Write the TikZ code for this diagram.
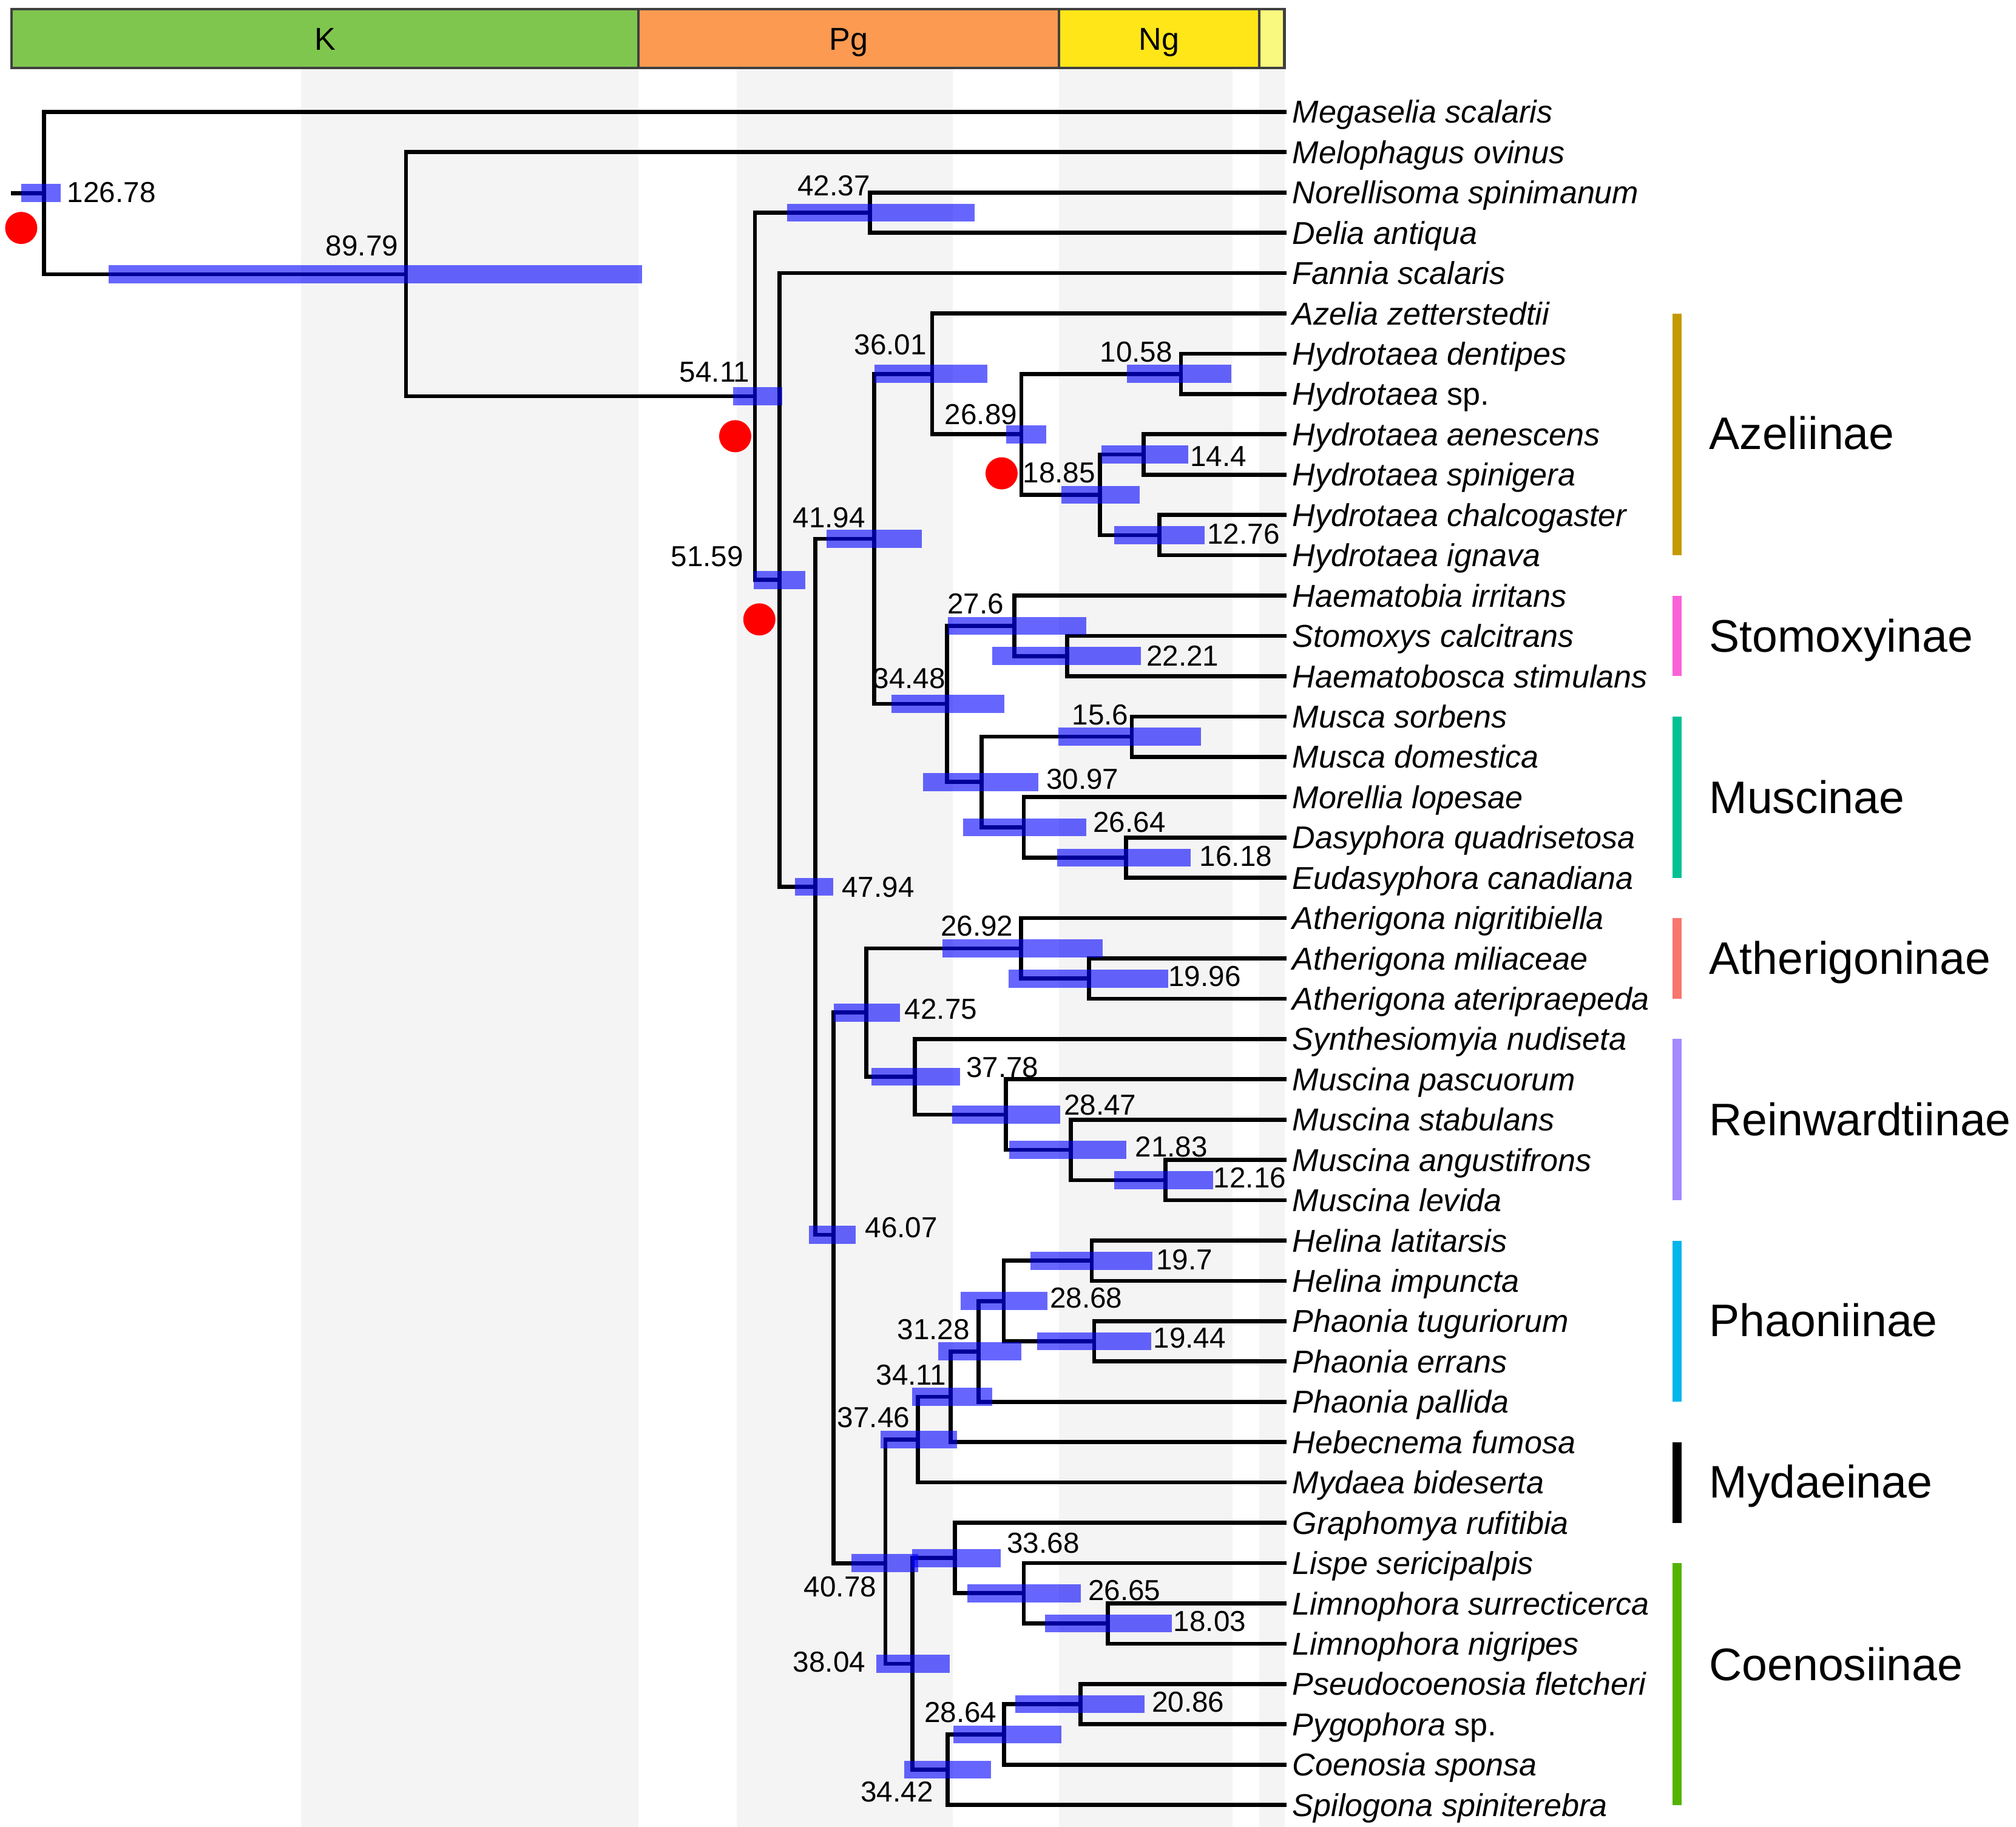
\documentclass[tikz,border=0pt]{standalone}
\usepackage{fontspec}
\setmainfont{Liberation Sans}
\usetikzlibrary{calc}

\definecolor{cretac}{HTML}{7FC64E}
\definecolor{paleog}{HTML}{FD9A52}
\definecolor{neog}{HTML}{FFE619}
\definecolor{quat}{HTML}{F9F97F}
\definecolor{epochgray}{HTML}{F4F4F4}
\definecolor{azel}{HTML}{C49A00}
\definecolor{stomo}{HTML}{FB61D7}
\definecolor{musci}{HTML}{00C094}
\definecolor{atheri}{HTML}{F8766D}
\definecolor{reinw}{HTML}{A58AFF}
\definecolor{phaon}{HTML}{00B6EB}
\definecolor{coeno}{HTML}{53B400}

% age (Ma) -> x position
\newcommand{\agex}[1]{999-7.61*#1}
% 95% HPD bar of a node
\newcommand{\hpd}[3]{\draw[hpd] (#2,0 |- #1) -- (#3,0 |- #1);}

\tikzset{%
  branch/.style={line width=1.8pt, line cap=rect, line join=miter},
  hpd/.style={line width=0.28cm, draw=blue, draw opacity=0.6},
  taxon/.style={%
    anchor=west, inner sep=0pt, xshift=0.12cm,
    font=\fontsize{14}{16}\selectfont\itshape,
    text height=12pt, text depth=2pt,
  },
  age/.style={inner sep=0pt, font=\fontsize{12.8}{14}\selectfont},
  cladelab/.style={%
    anchor=west, inner sep=0pt,
    font=\fontsize{20.2}{24}\selectfont,
    text height=17.5pt, text depth=3pt,
  },
  cladebar/.style={line width=0.14cm},
  calib/.style={circle, fill=red, inner sep=0pt, minimum size=0.5cm},
  period/.style={draw=black!75, line width=1.1pt},
  periodlab/.style={%
    inner sep=0pt, font=\fontsize{14}{16}\selectfont,
    text height=12pt, text depth=2pt,
  },
}

\begin{document}
\begin{tikzpicture}[x=0.02cm, y=-0.02cm]
	\useasboundingbox (0,0) rectangle (1568,1421);

	% epochs in the background
	\foreach \a/\b in {100.5/66, 56/33.9, 23.03/5.333, 2.58/0}
		\fill[epochgray] ({\agex{\a}},54) rectangle ({\agex{\b}},1421);

	% time scale
	\filldraw[period, fill=cretac] (9,7) rectangle ({\agex{66}},52.7);
	\filldraw[period, fill=paleog] ({\agex{66}},7) rectangle ({\agex{23.03}},52.7);
	\filldraw[period, fill=neog] ({\agex{23.03}},7) rectangle ({\agex{2.58}},52.7);
	\filldraw[period, fill=quat] ({\agex{2.58}},7) rectangle (999,52.7);
	\node[periodlab] (perK) at ({(9+\agex{66})/2},30) {K};
	\node[periodlab] (perPg) at ({(\agex{66}+\agex{23.03})/2},30) {Pg};
	\node[periodlab] (perNg) at ({(\agex{23.03}+\agex{2.58})/2},30) {Ng};

	% tips
	\foreach \nm [count=\i from 0] in {Megaselia scalaris, Melophagus ovinus,
		Norellisoma spinimanum, Delia antiqua, Fannia scalaris,
		Azelia zetterstedtii, Hydrotaea dentipes, Hydrotaea \textup{sp.},
		Hydrotaea aenescens, Hydrotaea spinigera, Hydrotaea chalcogaster,
		Hydrotaea ignava, Haematobia irritans, Stomoxys calcitrans,
		Haematobosca stimulans, Musca sorbens, Musca domestica,
		Morellia lopesae, Dasyphora quadrisetosa, Eudasyphora canadiana,
		Atherigona nigritibiella, Atherigona miliaceae,
		Atherigona ateripraepeda, Synthesiomyia nudiseta, Muscina pascuorum,
		Muscina stabulans, Muscina angustifrons, Muscina levida,
		Helina latitarsis, Helina impuncta, Phaonia tuguriorum,
		Phaonia errans, Phaonia pallida, Hebecnema fumosa, Mydaea bideserta,
		Graphomya rufitibia, Lispe sericipalpis, Limnophora surrecticerca,
		Limnophora nigripes, Pseudocoenosia fletcheri, Pygophora \textup{sp.},
		Coenosia sponsa, Spilogona spiniterebra} {
		\coordinate (t\i) at (999,{87+31.357*\i});
		\node[taxon] (lab\i) at (t\i) {\nm};
	}

	% internal nodes
	\coordinate (rootend) at (10,150.16);
	\coordinate (n12678) at ({\agex{126.78}},150.16);
	\coordinate (n8979) at ({\agex{89.79}},213.31);
	\coordinate (n5411) at ({\agex{54.11}},308.27);
	\coordinate (n4237) at ({\agex{42.37}},165.39);
	\coordinate (n5159) at ({\agex{51.59}},451.14);
	\coordinate (n4794) at ({\agex{47.94}},689.85);
	\coordinate (n4194) at ({\agex{41.94}},419.19);
	\coordinate (n3601) at ({\agex{36.01}},290.82);
	\coordinate (n2689) at ({\agex{26.89}},337.86);
	\coordinate (n1058) at ({\agex{10.58}},290.82);
	\coordinate (n1885) at ({\agex{18.85}},384.9);
	\coordinate (n144) at ({\agex{14.4}},353.54);
	\coordinate (n1276) at ({\agex{12.76}},416.25);
	\coordinate (n3448) at ({\agex{34.48}},547.56);
	\coordinate (n276) at ({\agex{27.6}},486.8);
	\coordinate (n2221) at ({\agex{22.21}},510.32);
	\coordinate (n3097) at ({\agex{30.97}},608.31);
	\coordinate (n156) at ({\agex{15.6}},573.04);
	\coordinate (n2664) at ({\agex{26.64}},643.59);
	\coordinate (n1618) at ({\agex{16.18}},667.1);
	\coordinate (n4607) at ({\agex{46.07}},960.5);
	\coordinate (n4275) at ({\agex{42.75}},787.63);
	\coordinate (n2692) at ({\agex{26.92}},737.66);
	\coordinate (n1996) at ({\agex{19.96}},761.18);
	\coordinate (n3778) at ({\agex{37.78}},837.6);
	\coordinate (n2847) at ({\agex{28.47}},867.0);
	\coordinate (n2183) at ({\agex{21.83}},894.44);
	\coordinate (n1216) at ({\agex{12.16}},917.96);
	\coordinate (n4078) at ({\agex{40.78}},1216);
	\coordinate (n3746) at ({\agex{37.46}},1119.82);
	\coordinate (n3411) at ({\agex{34.11}},1086.5);
	\coordinate (n3128) at ({\agex{31.28}},1051.23);
	\coordinate (n2868) at ({\agex{28.68}},1012.03);
	\coordinate (n197) at ({\agex{19.7}},980.68);
	\coordinate (n1944) at ({\agex{19.44}},1043.39);
	\coordinate (n3804) at ({\agex{38.04}},1294.25);
	\coordinate (n3368) at ({\agex{33.68}},1211.93);
	\coordinate (n2665) at ({\agex{26.65}},1239.37);
	\coordinate (n1803) at ({\agex{18.03}},1262.89);
	\coordinate (n3442) at ({\agex{34.42}},1376.56);
	\coordinate (n2864) at ({\agex{28.64}},1349.12);
	\coordinate (n2086) at ({\agex{20.86}},1325.6);

	% branches
	\draw[branch] (rootend) -- (n12678);
	\foreach \p/\c in {n12678/t0, n12678/n8979, n8979/t1, n8979/n5411,
		n5411/n4237, n5411/n5159, n4237/t2, n4237/t3, n5159/t4, n5159/n4794,
		n4794/n4194, n4794/n4607, n4194/n3601, n4194/n3448,
		n3601/t5, n3601/n2689, n2689/n1058, n2689/n1885, n1058/t6, n1058/t7,
		n1885/n144, n1885/n1276, n144/t8, n144/t9, n1276/t10, n1276/t11,
		n3448/n276, n3448/n3097, n276/t12, n276/n2221, n2221/t13, n2221/t14,
		n3097/n156, n3097/n2664, n156/t15, n156/t16, n2664/t17, n2664/n1618,
		n1618/t18, n1618/t19,
		n4607/n4275, n4607/n4078, n4275/n2692, n4275/n3778,
		n2692/t20, n2692/n1996, n1996/t21, n1996/t22,
		n3778/t23, n3778/n2847, n2847/t24, n2847/n2183,
		n2183/t25, n2183/n1216, n1216/t26, n1216/t27,
		n4078/n3746, n4078/n3804, n3746/n3411, n3746/t34,
		n3411/n3128, n3411/t33, n3128/n2868, n3128/t32,
		n2868/n197, n2868/n1944, n197/t28, n197/t29, n1944/t30, n1944/t31,
		n3804/n3368, n3804/n3442, n3368/t35, n3368/n2665,
		n2665/t36, n2665/n1803, n1803/t37, n1803/t38,
		n3442/n2864, n3442/t42, n2864/n2086, n2864/t41, n2086/t39, n2086/t40}
		\draw[branch] (\p) |- (\c);

	% HPD intervals
	\hpd{n12678}{16.6}{47}
	\hpd{n8979}{84.4}{499.3}
	\hpd{n5411}{570.1}{608.2}
	\hpd{n4237}{612.2}{758.2}
	\hpd{n5159}{586}{626.4}
	\hpd{n4794}{618.2}{647.9}
	\hpd{n4194}{643}{716.8}
	\hpd{n3601}{680}{768.1}
	\hpd{n2689}{782.7}{813.5}
	\hpd{n1058}{876.4}{957.5}
	\hpd{n1885}{825.7}{886.3}
	\hpd{n144}{856.5}{924.4}
	\hpd{n1276}{866.5}{937}
	\hpd{n3448}{693.3}{781}
	\hpd{n276}{737.3}{845}
	\hpd{n2221}{771.5}{887.3}
	\hpd{n3097}{718.1}{807.8}
	\hpd{n156}{823.4}{934.3}
	\hpd{n2664}{749}{845}
	\hpd{n1618}{822.1}{926.1}
	\hpd{n4607}{629.3}{665.3}
	\hpd{n4275}{648.3}{699.8}
	\hpd{n2692}{733}{857.4}
	\hpd{n1996}{784.3}{908.4}
	\hpd{n3778}{678}{746.6}
	\hpd{n2847}{740.4}{824.4}
	\hpd{n2183}{785.1}{875.9}
	\hpd{n1216}{866.4}{943.6}
	\hpd{n4078}{662.4}{714.3}
	\hpd{n3746}{684.8}{744.5}
	\hpd{n3411}{709.2}{771.6}
	\hpd{n3128}{729.5}{794.6}
	\hpd{n2868}{747.2}{814.9}
	\hpd{n197}{801.3}{896.2}
	\hpd{n1944}{806.8}{895.6}
	\hpd{n3804}{681.6}{738.5}
	\hpd{n3368}{709.2}{778.3}
	\hpd{n2665}{752.6}{840.6}
	\hpd{n1803}{813}{911.6}
	\hpd{n3442}{703.3}{771}
	\hpd{n2864}{741.7}{825.7}
	\hpd{n2086}{789.7}{890.2}

	% calibration points
	\node[calib] (cal1) at (16.5,177.3) {};
	\node[calib] (cal2) at (571.8,339.3) {};
	\node[calib] (cal3) at (590.6,481.8) {};
	\node[calib] (cal4) at (779,368.2) {};

	% node ages
	\node[age, anchor=west] (a12678) at (52,149.5) {126.78};
	\node[age, anchor=east] (a8979) at (310,191) {89.79};
	\node[age, anchor=east] (a5411) at (583.5,289.6) {54.11};
	\node[age, anchor=east] (a4237) at (677,144.5) {42.37};
	\node[age, anchor=east] (a5159) at (578.5,433) {51.59};
	\node[age, anchor=east] (a3601) at (721,268) {36.01};
	\node[age, anchor=east] (a2689) at (791.5,322.3) {26.89};
	\node[age, anchor=east] (a1058) at (912.2,273.8) {10.58};
	\node[age, anchor=west] (a1885) at (795.3,367.5) {18.85};
	\node[age, anchor=west] (a144) at (925.4,355) {14.4};
	\node[age, anchor=west] (a1276) at (938.6,415.5) {12.76};
	\node[age, anchor=east] (a4194) at (673.4,402.5) {41.94};
	\node[age, anchor=east] (a276) at (781,469.6) {27.6};
	\node[age, anchor=west] (a2221) at (891.3,510.3) {22.21};
	\node[age, anchor=east] (a3448) at (735.7,527.5) {34.48};
	\node[age, anchor=east] (a156) at (878,556) {15.6};
	\node[age, anchor=west] (a3097) at (813.5,606) {30.97};
	\node[age, anchor=west] (a2664) at (849.9,639.4) {26.64};
	\node[age, anchor=west] (a1618) at (932.7,666) {16.18};
	\node[age, anchor=west] (a4794) at (654.5,690) {47.94};
	\node[age, anchor=east] (a2692) at (788.3,720.5) {26.92};
	\node[age, anchor=west] (a1996) at (908.4,759.4) {19.96};
	\node[age, anchor=west] (a4275) at (703.3,785) {42.75};
	\node[age, anchor=west] (a3778) at (751.2,830.3) {37.78};
	\node[age, anchor=west] (a2847) at (827.1,859.6) {28.47};
	\node[age, anchor=west] (a2183) at (882.6,892) {21.83};
	\node[age, anchor=west] (a1216) at (943.6,916) {12.16};
	\node[age, anchor=west] (a4607) at (672.6,955) {46.07};
	\node[age, anchor=west] (a197) at (898.9,980) {19.7};
	\node[age, anchor=west] (a2868) at (816.3,1009.7) {28.68};
	\node[age, anchor=west] (a1944) at (896.7,1041) {19.44};
	\node[age, anchor=east] (a3128) at (754.5,1034) {31.28};
	\node[age, anchor=east] (a3411) at (736.3,1069.5) {34.11};
	\node[age, anchor=east] (a3746) at (707.9,1102.7) {37.46};
	\node[age, anchor=east] (a4078) at (682,1234.4) {40.78};
	\node[age, anchor=west] (a3368) at (782.9,1200.3) {33.68};
	\node[age, anchor=west] (a2665) at (846,1237) {26.65};
	\node[age, anchor=west] (a1803) at (912.4,1261) {18.03};
	\node[age, anchor=east] (a3804) at (673.5,1292.8) {38.04};
	\node[age, anchor=west] (a2086) at (895.6,1324) {20.86};
	\node[age, anchor=east] (a2864) at (775.6,1332) {28.64};
	\node[age, anchor=east] (a3442) at (726.1,1394) {34.42};

	% subfamilies
	\draw[cladebar, draw=azel] (1304.5,0 |- t5) -- (1304.5,0 |- t11);
	\draw[cladebar, draw=stomo] (1304.5,0 |- t12) -- (1304.5,0 |- t14);
	\draw[cladebar, draw=musci] (1304.5,0 |- t15) -- (1304.5,0 |- t19);
	\draw[cladebar, draw=atheri] (1304.5,0 |- t20) -- (1304.5,0 |- t22);
	\draw[cladebar, draw=reinw] (1304.5,0 |- t23) -- (1304.5,0 |- t27);
	\draw[cladebar, draw=phaon] (1304.5,0 |- t28) -- (1304.5,0 |- t32);
	\draw[cladebar, draw=black] (1304.5,0 |- t33) -- (1304.5,0 |- t35);
	\draw[cladebar, draw=coeno] (1304.5,0 |- t36) -- (1304.5,0 |- t42);

	\node[cladelab] (azeliinae) at (1329,337) {Azeliinae};
	\node[cladelab] (stomoxyinae) at (1329,494.5) {Stomoxyinae};
	\node[cladelab] (muscinae) at (1329,620) {Muscinae};
	\node[cladelab] (atherigoninae) at (1329,745) {Atherigoninae};
	\node[cladelab] (reinwardtiinae) at (1329,870.5) {Reinwardtiinae};
	\node[cladelab] (phaoniinae) at (1329,1027) {Phaoniinae};
	\node[cladelab] (mydaeinae) at (1329,1152.5) {Mydaeinae};
	\node[cladelab] (coenosiinae) at (1329,1294.5) {Coenosiinae};
\end{tikzpicture}
\end{document}
